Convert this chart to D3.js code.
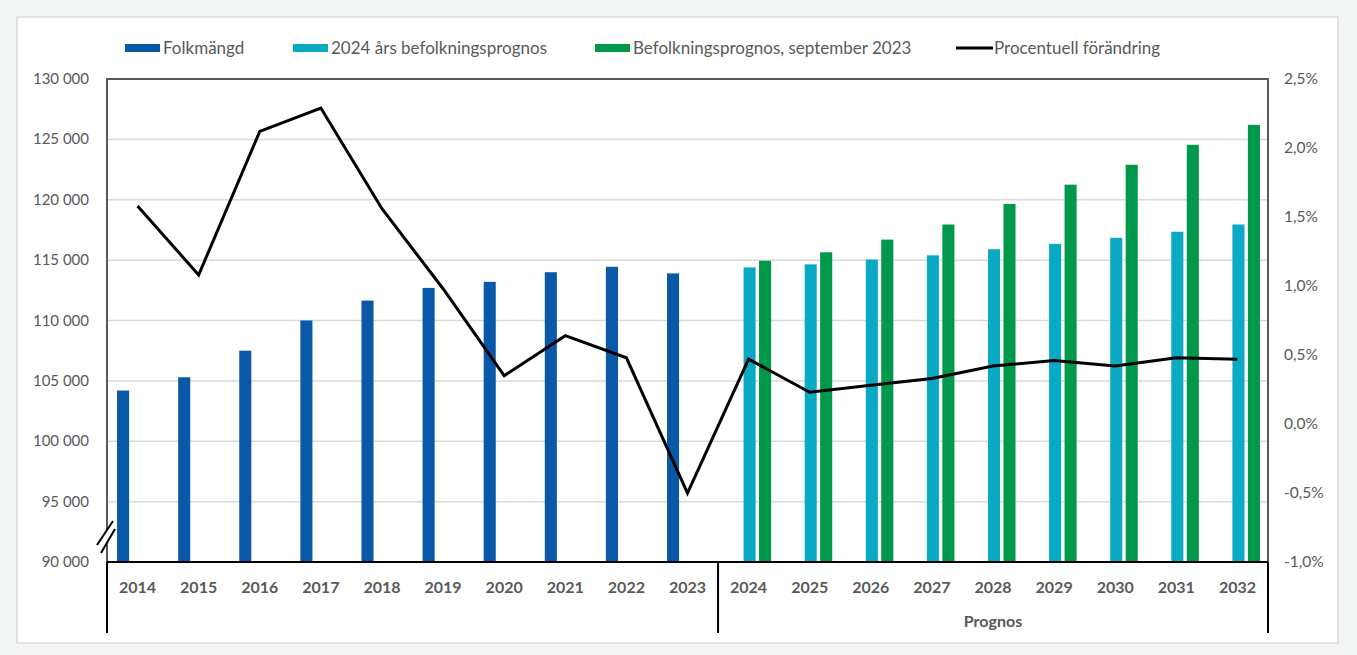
<!DOCTYPE html>
<html>
<head>
<meta charset="utf-8">
<script src="https://cdn.jsdelivr.net/npm/d3@7"></script>
<style>
  html, body { margin: 0; padding: 0; background: #f3f5f5; }
  svg { display: block; }
  text { font-family: Lato, "Open Sans", sans-serif; fill: #595959; }
</style>
</head>
<body>
<svg id="chart" width="1357" height="655"></svg>
<script>
// ---------- data ----------
const years = ["2014","2015","2016","2017","2018","2019","2020","2021","2022","2023",
               "2024","2025","2026","2027","2028","2029","2030","2031","2032"];
const folkmangd = [104200,105300,107500,110000,111650,112700,113200,114000,114450,113900,
                   null,null,null,null,null,null,null,null,null];
const prognos2024 = [null,null,null,null,null,null,null,null,null,null,
                     114400,114650,115050,115400,115900,116350,116850,117350,117950];
const prognos2023 = [null,null,null,null,null,null,null,null,null,null,
                     114950,115650,116700,117950,119650,121250,122900,124550,126200];
const procent = [1.58,1.08,2.12,2.29,1.56,0.98,0.35,0.64,0.48,-0.50,
                 0.47,0.23,0.28,0.33,0.42,0.46,0.42,0.48,0.47];
const leftTicks = [90000,95000,100000,105000,110000,115000,120000,125000,130000];
const rightTicks = [-1.0,-0.5,0.0,0.5,1.0,1.5,2.0,2.5];
const seriesNames = ["Folkmängd","2024 års befolkningsprognos","Befolkningsprognos, september 2023","Procentuell förändring"];
const groupLabel = "Prognos";

// ---------- layout ----------
const svg = d3.select("#chart");
const L = 107, R = 1268, T = 79, B = 562;
const colors = ["#0a58a8", "#0aa9c4", "#00984a"];

// outer chart box
svg.append("rect").attr("x", 17).attr("y", 17).attr("width", 1321).attr("height", 626)
  .attr("fill", "#ffffff").attr("stroke", "#d9d9d9").attr("stroke-width", 1.5);

const x = d3.scaleBand().domain(years).range([L, R]).paddingInner(0).paddingOuter(0);
const xs = d3.scaleBand().domain([0,1,2]).range([-20.5, 22.5]).paddingInner(0.22);
const yL = d3.scaleLinear().domain([90000, 130000]).range([B, T]);
const yR = d3.scaleLinear().domain([-1.0, 2.5]).range([B, T]);

// gridlines
svg.append("g").selectAll("line").data(leftTicks.filter(d => d > 90000 && d < 130000)).join("line")
  .attr("x1", L).attr("x2", R).attr("y1", d => yL(d)).attr("y2", d => yL(d))
  .attr("stroke", "#d9d9d9").attr("stroke-width", 1.5);

// bars
const seriesVals = [folkmangd, prognos2024, prognos2023];
seriesVals.forEach((vals, si) => {
  svg.append("g").selectAll("rect")
    .data(years.map((y, i) => ({ y, v: vals[i] })).filter(d => d.v != null))
    .join("rect")
    .attr("x", d => x(d.y) + x.bandwidth() / 2 + xs(si))
    .attr("width", xs.bandwidth())
    .attr("y", d => yL(d.v))
    .attr("height", d => B - yL(d.v))
    .attr("fill", colors[si]);
});

// plot frame
svg.append("path")
  .attr("d", `M${L},${B}V${T}H${R}V${B}`)
  .attr("fill", "none").attr("stroke", "#595959").attr("stroke-width", 2);

// line
const line = d3.line().x((d, i) => x(years[i]) + x.bandwidth() / 2).y(d => yR(d));
svg.append("path").datum(procent).attr("d", line)
  .attr("fill", "none").attr("stroke", "#000").attr("stroke-width", 3).attr("stroke-linejoin", "miter");

// bottom axis
svg.append("line").attr("x1", L).attr("x2", R).attr("y1", B).attr("y2", B)
  .attr("stroke", "#000").attr("stroke-width", 2);
[L, x("2024"), R].forEach(px => {
  svg.append("line").attr("x1", px).attr("x2", px).attr("y1", B).attr("y2", 633)
    .attr("stroke", "#000").attr("stroke-width", 2);
});
svg.append("g").selectAll("text").data(years).join("text")
  .attr("x", d => x(d) + x.bandwidth() / 2).attr("y", 593)
  .attr("text-anchor", "middle").attr("font-size", 16).attr("font-weight", "bold")
  .text(d => d);
svg.append("text").attr("x", (x("2024") + R) / 2).attr("y", 627)
  .attr("text-anchor", "middle").attr("font-size", 16).attr("font-weight", "bold")
  .text(groupLabel);

// left axis labels
svg.append("g").selectAll("text").data(leftTicks).join("text")
  .attr("x", 89).attr("y", d => yL(d) + 5)
  .attr("text-anchor", "end").attr("font-size", 15)
  .text(d => d3.format(",")(d).replace(/,/g, " "));

// right axis labels
svg.append("g").selectAll("text").data(rightTicks).join("text")
  .attr("x", 1284).attr("y", d => yR(d) + 5)
  .attr("text-anchor", "start").attr("font-size", 15.5)
  .text(d => d3.format(".1f")(d).replace(".", ",").replace("\u2212", "-") + "%");

// axis break marker
const brk = svg.append("g");
brk.append("polygon").attr("points", "97,545 113,521 115,529 101,553").attr("fill", "#fff");
brk.append("line").attr("x1", 97).attr("y1", 545).attr("x2", 113).attr("y2", 521)
  .attr("stroke", "#000").attr("stroke-width", 2);
brk.append("line").attr("x1", 101).attr("y1", 553).attr("x2", 115).attr("y2", 529)
  .attr("stroke", "#000").attr("stroke-width", 2);

// legend
const legX = [125, 293, 595, 956];
const leg = svg.append("g");
seriesNames.forEach((name, i) => {
  const g = leg.append("g").attr("transform", `translate(${legX[i]},48)`);
  if (i < 3) {
    g.append("rect").attr("x", 0).attr("y", -4).attr("width", 35).attr("height", 8).attr("fill", colors[i]);
  } else {
    g.append("line").attr("x1", 0).attr("x2", 37).attr("y1", 0).attr("y2", 0)
      .attr("stroke", "#000").attr("stroke-width", 3);
  }
  g.append("text").attr("x", 38).attr("y", 6).attr("font-size", 17).text(name);
});
</script>
</body>
</html>
